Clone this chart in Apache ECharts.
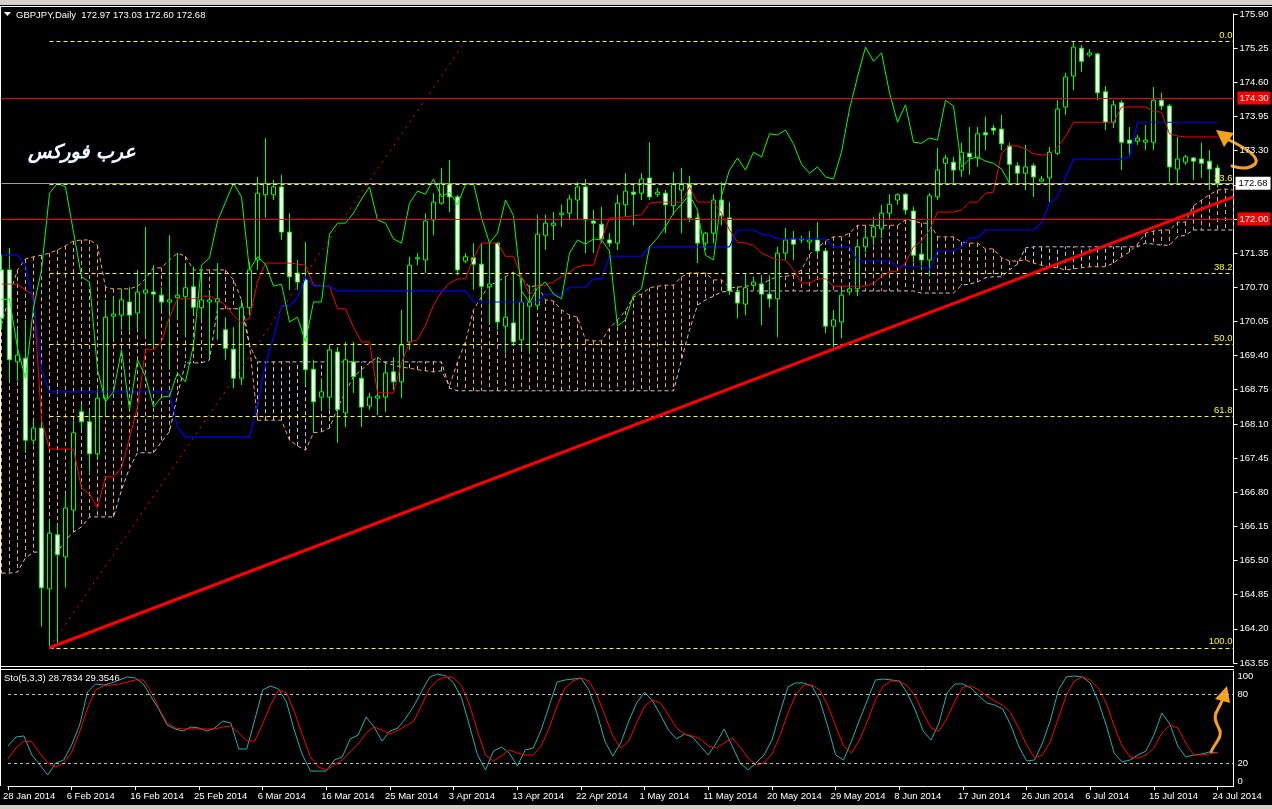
<!DOCTYPE html>
<html><head><meta charset="utf-8">
<script src="https://cdn.jsdelivr.net/npm/echarts@6/dist/echarts.min.js"></script>
<style>html,body{margin:0;padding:0;background:#000;overflow:hidden}#c{width:1272px;height:809px}</style>
</head><body><div id="c"></div>
<script>
// ---------- DATA ----------
const dateLabels = ["28 Jan 2014","6 Feb 2014","16 Feb 2014","25 Feb 2014","6 Mar 2014","16 Mar 2014","25 Mar 2014","3 Apr 2014","13 Apr 2014","22 Apr 2014","1 May 2014","11 May 2014","20 May 2014","29 May 2014","8 Jun 2014","17 Jun 2014","26 Jun 2014","6 Jul 2014","15 Jul 2014","24 Jul 2014"];
const priceTicks = {min:163.55, max:175.90, step:0.65};

const opens = [171.03,171.03,169.28,169.35,167.79,168.02,164.96,165.99,165.57,166.46,
168.33,168.14,167.53,168.59,170.15,170.17,170.42,170.21,170.59,170.61,
170.55,170.42,170.50,170.52,170.71,170.31,170.42,170.42,169.89,169.52,
168.97,170.31,171.22,172.46,172.46,172.61,171.75,170.97,170.84,169.14,
168.61,168.61,169.47,168.31,169.28,168.97,168.44,168.59,168.61,169.09,
168.90,169.66,171.24,171.22,171.98,172.30,172.65,172.42,171.20,171.26,
171.14,170.71,171.54,169.96,170.02,169.70,170.34,170.36,171.69,171.88,
172.08,172.11,172.36,172.61,171.96,171.90,171.60,171.54,172.27,172.51,
172.49,172.78,172.47,172.49,172.25,172.55,172.65,172.02,171.54,171.73,
172.36,172.02,170.61,170.38,170.74,170.76,170.57,170.48,171.35,171.62,
171.60,171.56,171.60,171.39,169.96,170.04,170.61,170.67,171.47,171.66,
171.81,172.11,172.36,172.47,172.15,171.33,171.22,172.42,173.06,173.08,
172.93,173.25,173.16,173.64,173.73,173.71,173.39,173.01,172.87,173.01,
172.72,172.78,173.25,174.13,174.72,175.25,175.12,175.14,174.42,173.84,
174.21,173.50,173.48,173.46,173.46,174.26,174.15,172.95,173.08,173.16,
173.14,173.10,172.97];
const highs = [171.32,171.45,169.89,170.08,168.17,168.17,166.27,166.18,166.75,168.17,
168.46,168.37,168.75,170.46,170.53,170.65,170.70,171.03,171.85,171.12,
170.70,171.69,171.35,171.16,171.09,171.03,170.65,171.16,170.13,169.94,
170.46,171.18,172.80,173.54,172.74,172.84,172.11,171.22,171.56,169.32,
168.97,169.60,169.56,169.66,169.66,169.13,168.69,169.37,169.26,169.37,
170.27,171.28,171.35,172.11,172.49,172.97,173.12,172.46,171.35,171.54,
171.54,171.56,171.56,170.90,170.99,170.88,170.74,172.08,172.08,172.13,
172.27,172.46,172.70,172.76,172.17,172.23,171.73,172.46,172.87,172.66,
172.87,173.46,172.59,172.55,172.89,172.97,172.82,172.11,171.75,172.47,
172.70,172.32,170.72,170.97,170.90,170.93,170.93,171.47,171.83,171.77,
171.68,171.77,171.94,171.41,170.27,170.65,170.74,171.60,171.83,172.04,
172.27,172.47,172.49,172.49,172.23,171.54,172.49,173.35,173.22,173.18,
173.45,173.75,173.75,173.95,173.79,173.98,173.45,173.08,173.41,173.06,
172.82,173.37,174.26,174.78,175.38,175.31,175.23,175.16,174.53,174.26,
174.26,173.75,173.60,173.79,174.51,174.40,174.19,173.56,173.22,173.18,
173.45,173.31,173.03];
const lows = [169.89,168.92,168.92,167.55,167.70,164.24,163.84,163.93,164.99,166.08,
167.98,167.16,167.41,168.27,169.70,169.89,169.85,169.89,169.75,169.56,
170.27,169.13,170.08,169.75,170.17,170.08,169.37,169.70,169.32,168.78,
168.84,170.17,171.03,172.02,172.36,171.60,170.65,170.65,168.84,167.93,
168.37,168.37,167.74,168.04,168.69,168.04,168.37,168.27,168.33,168.75,
168.59,169.51,171.12,170.97,171.69,172.27,172.13,170.93,171.16,170.65,
170.46,169.98,169.89,169.45,169.60,169.54,169.45,170.27,171.41,171.60,
171.85,171.98,171.98,171.35,171.35,171.54,171.47,171.41,172.04,171.88,
172.36,172.36,172.42,171.73,172.08,171.73,171.94,171.16,171.41,171.54,
171.88,170.55,170.11,170.17,170.65,169.98,170.32,169.75,171.22,171.22,
171.54,171.41,171.32,169.83,169.56,169.73,170.55,170.53,171.37,171.50,
171.64,171.98,172.27,172.08,171.18,171.03,170.93,172.36,172.68,172.68,
172.80,172.84,172.99,173.31,173.60,173.31,172.68,172.68,172.55,172.42,
172.70,172.32,173.22,173.98,174.45,174.80,175.08,174.26,173.69,173.73,
172.93,173.18,173.41,173.31,173.31,174.07,172.70,172.65,173.03,172.74,
172.78,172.55,172.60];
const closes = [170.11,169.32,169.41,167.79,168.02,164.98,166.02,165.61,166.50,167.93,
168.14,167.53,168.59,170.13,170.19,170.46,170.17,170.61,170.65,170.57,
170.42,170.46,170.55,170.69,170.32,170.46,170.46,170.48,169.54,168.97,
170.32,171.03,172.49,172.68,172.61,171.75,170.90,170.80,169.13,168.52,
168.71,169.51,168.37,169.32,169.00,168.42,168.61,168.63,169.07,168.90,
169.60,171.12,171.26,171.96,172.32,172.68,172.42,171.03,171.28,171.14,
170.72,170.76,170.04,170.13,169.66,170.42,170.42,171.71,171.92,171.92,
172.11,172.38,172.61,171.98,171.92,171.62,171.54,172.30,172.53,172.47,
172.76,172.42,172.51,172.27,172.66,172.68,172.02,171.54,171.73,172.36,
172.06,170.63,170.40,170.69,170.80,170.57,170.48,171.35,171.60,171.52,
171.62,171.60,171.39,169.96,170.08,170.55,170.67,171.47,171.64,171.85,
172.11,172.28,172.46,172.17,171.31,171.22,172.44,172.93,173.16,172.93,
173.27,173.18,173.62,173.60,173.69,173.43,173.04,172.87,172.99,172.80,
172.76,173.27,174.09,174.70,175.27,175.00,175.16,174.40,173.84,174.17,
173.46,173.44,173.54,173.50,174.26,174.15,172.99,173.14,173.18,173.10,
173.06,172.95,172.68];

const tenkan = [170.76,170.76,170.76,170.65,170.55,168.17,167.62,167.62,167.62,167.62,
166.88,166.77,166.50,167.09,167.09,167.26,167.83,168.42,169.51,169.51,
169.66,170.13,170.48,170.48,170.48,170.53,170.53,170.46,170.36,170.17,
170.02,170.11,170.80,171.16,171.16,171.16,171.16,171.14,171.12,170.74,
170.72,170.72,170.29,170.29,169.94,169.66,169.66,168.69,168.69,168.69,
169.26,169.66,169.70,169.98,170.36,170.61,170.78,170.86,170.86,171.26,
171.54,171.54,171.54,171.29,171.29,170.90,170.55,170.74,170.74,170.80,
170.90,170.99,171.09,171.12,171.12,171.60,172.02,172.02,172.04,172.06,
172.08,172.30,172.32,172.32,172.32,172.32,172.61,172.32,172.32,172.32,
172.11,171.79,171.56,171.54,171.50,171.35,171.28,171.22,171.22,171.03,
170.78,170.78,170.86,170.86,170.72,170.72,170.72,170.72,170.72,170.78,
170.90,170.99,171.01,171.16,171.47,171.58,171.79,172.13,172.13,172.13,
172.17,172.32,172.32,172.49,172.51,173.25,173.39,173.39,173.33,173.24,
173.22,173.22,173.37,173.56,173.84,173.84,173.84,173.84,173.84,173.84,
174.13,174.13,174.13,174.13,174.05,174.03,173.62,173.58,173.56,173.56,
173.56,173.56,173.56];
const kijun = [171.31,171.31,171.31,171.12,170.40,169.13,168.71,168.71,168.71,168.71,
168.71,168.71,168.71,168.71,168.71,168.71,168.71,168.71,168.71,168.71,
168.71,168.71,168.04,167.85,167.85,167.85,167.85,167.85,167.85,167.85,
167.85,167.85,168.46,169.22,169.75,170.34,170.34,170.50,170.90,170.72,
170.72,170.72,170.63,170.63,170.63,170.63,170.63,170.63,170.63,170.63,
170.63,170.63,170.63,170.63,170.63,170.63,170.63,170.63,170.63,170.42,
170.42,170.42,170.42,170.42,170.42,170.42,170.42,170.42,170.57,170.57,
170.57,170.70,170.70,170.70,170.86,170.86,171.29,171.29,171.29,171.29,
171.29,171.47,171.47,171.47,171.47,171.47,171.47,171.47,171.47,171.47,
171.47,171.47,171.79,171.79,171.79,171.71,171.69,171.62,171.62,171.62,
171.62,171.62,171.62,171.62,171.47,171.47,171.47,171.20,171.20,171.20,
171.20,171.20,171.10,171.10,171.10,171.10,171.03,171.39,171.39,171.39,
171.47,171.64,171.64,171.79,171.79,171.79,171.79,171.79,171.79,171.79,
171.92,172.30,172.42,172.80,173.14,173.14,173.14,173.14,173.14,173.14,
173.14,173.18,173.84,173.84,173.84,173.84,173.84,173.84,173.84,173.84,
173.84,173.84,173.84];
const senkouA = [169.98,170.55,171.03,171.24,171.28,171.31,171.35,171.41,171.49,171.58,
171.60,171.60,171.50,170.70,170.67,170.67,170.67,170.72,170.86,171.07,
171.07,171.22,171.35,171.29,171.03,171.03,171.03,171.03,171.03,170.84,
170.46,169.60,168.17,168.17,168.17,168.17,167.79,167.68,167.60,167.93,
167.95,168.02,168.40,168.71,169.00,169.13,169.26,169.37,169.26,169.22,
169.18,169.16,169.13,169.11,169.09,169.11,168.82,169.28,169.66,170.27,
170.52,170.74,170.80,170.90,170.99,170.88,170.70,170.74,170.46,170.44,
170.27,170.17,170.13,169.70,169.68,169.68,169.92,170.08,170.25,170.52,
170.57,170.69,170.72,170.74,170.74,170.90,170.97,170.97,170.97,170.84,
170.84,170.69,170.70,170.72,170.74,170.76,170.84,170.90,170.91,170.93,
171.03,171.33,171.45,171.58,171.66,171.66,171.73,171.88,171.88,171.88,
171.88,171.88,171.88,171.98,171.96,171.92,171.92,171.66,171.66,171.66,
171.56,171.54,171.54,171.43,171.43,171.26,171.20,171.20,171.22,171.16,
171.12,171.09,171.07,171.03,171.05,171.07,171.09,171.09,171.09,171.16,
171.28,171.37,171.52,171.73,171.77,171.79,171.79,171.94,171.94,172.25,
172.36,172.46,172.55,172.57,172.55];
const senkouB = [165.26,165.26,165.28,165.55,165.66,165.66,165.66,165.66,165.89,166.04,
166.14,166.33,166.33,166.33,166.33,166.84,167.26,167.55,167.55,167.55,
167.76,167.95,168.65,169.26,169.26,169.26,169.32,170.29,170.29,170.29,
170.29,169.60,169.28,169.28,169.28,169.28,169.28,169.28,169.28,169.28,
169.28,169.28,169.28,169.28,169.28,169.28,169.28,169.28,169.28,169.28,
169.28,169.28,169.28,169.28,169.28,169.28,168.78,168.73,168.73,168.73,
168.73,168.73,168.73,168.73,168.73,168.73,168.73,168.73,168.73,168.73,
168.73,168.73,168.73,168.73,168.73,168.73,168.73,168.73,168.73,168.73,
168.73,168.73,168.73,168.73,168.73,169.32,169.89,170.36,170.46,170.53,
170.61,170.63,170.63,170.63,170.63,170.63,170.63,170.63,170.63,170.63,
170.63,170.63,170.63,170.63,170.63,170.63,170.63,170.63,170.63,170.63,
170.63,170.63,170.63,170.63,170.63,170.59,170.59,170.59,170.59,170.59,
170.74,170.76,170.80,170.88,170.90,170.90,171.03,171.14,171.45,171.47,
171.47,171.47,171.47,171.47,171.47,171.47,171.47,171.47,171.47,171.47,
171.47,171.47,171.47,171.54,171.52,171.50,171.50,171.66,171.69,171.79,
171.79,171.79,171.79,171.79,171.79];
const chikouShift = 26;

const stochMain = [34.8,42.6,43.5,27.0,18.3,9.6,20.0,22.6,35.7,53.0,
81.7,88.7,87.8,89.6,92.2,94.8,93.9,88.7,77.4,66.1,
53.0,49.6,47.8,51.3,50.4,47.8,50.4,56.5,54.8,32.2,
32.2,57.4,83.5,87.0,84.3,73.0,47.8,27.0,13.0,13.0,
13.0,22.6,25.2,40.9,44.3,60.0,51.3,39.1,47.8,50.4,
59.1,69.6,82.6,94.8,97.4,95.7,89.6,76.5,52.2,27.0,
13.9,30.4,33.9,28.7,17.4,31.3,33.0,48.7,69.6,90.4,
92.2,93.0,93.9,83.5,63.5,39.1,26.1,37.4,56.5,72.2,
81.7,73.9,61.7,48.7,40.9,45.2,42.6,34.8,27.0,37.4,
49.6,34.8,20.0,13.9,20.0,27.0,40.0,63.5,86.1,89.6,
89.6,87.0,74.8,52.2,27.0,22.6,39.1,57.4,74.8,92.2,
93.0,92.2,91.3,80.9,66.1,47.8,40.0,54.8,80.9,88.7,
88.7,85.2,78.3,72.2,70.4,67.0,53.0,34.8,21.7,22.6,
37.4,57.4,83.5,94.8,95.7,94.8,89.6,73.9,53.0,28.7,
20.9,22.6,27.0,30.4,44.3,63.5,53.9,34.8,25.2,27.0,
27.8,29.6,28.78];
const stochSignal = [23.5,33.0,39.1,38.3,28.7,20.0,16.5,20.0,29.6,47.0,
67.8,83.5,87.0,87.8,88.7,90.4,92.2,92.2,81.7,67.0,
54.8,50.4,49.6,49.6,49.6,49.6,49.6,51.3,52.2,46.1,
39.1,39.1,53.9,70.4,83.5,80.9,64.3,44.3,25.2,16.5,
13.9,18.3,22.6,29.6,36.5,46.1,51.3,48.7,45.2,48.7,
52.2,56.5,70.4,85.2,92.2,94.8,93.9,87.0,70.4,47.8,
27.0,21.7,26.1,31.3,28.7,27.0,27.0,34.8,50.4,69.6,
85.2,91.3,93.9,91.3,79.1,61.7,43.5,33.0,39.1,54.8,
69.6,74.8,72.2,61.7,50.4,45.2,43.5,40.9,34.8,33.0,
37.4,41.7,33.9,24.3,18.3,20.0,27.8,43.5,63.5,79.1,
87.8,87.8,83.5,70.4,52.2,34.8,28.7,40.0,56.5,74.8,
87.0,91.3,91.3,87.0,78.3,63.5,50.4,47.8,59.1,73.9,
86.1,87.0,83.5,78.3,73.9,70.4,63.5,50.4,35.7,24.3,
27.0,39.1,59.1,79.1,91.3,94.8,92.2,85.2,72.2,52.2,
34.8,25.2,24.3,27.0,33.0,46.1,53.0,50.4,37.4,27.0,
27.0,27.8,29.35];
const stochLevels = [80, 20];

const fibLow = 163.84, fibHigh = 175.38;
const fibLevels = [0, 23.6, 38.2, 50.0, 61.8, 100.0];
const fibStartBar = 6, fibEndBar = 154, fibBaseEndBar = 57.96;
const trendPoints = [[6, 163.84], [154, 172.42]];
const resistance = 174.30, support = 172.00, bid = 172.68;

// ---------- CHART ----------
const N = senkouA.length;
const cats = Array.from({length: N}, (_, i) => String(i));
const FONT = '"Liberation Sans", Arial, sans-serif';
const LEFT = 1.5, RIGHT = 1272 - (1.5 + 8 * (N - 1));

const candleData = opens.map((o, i) => [o, closes[i], lows[i], highs[i]]);
const chikou = closes.slice(chikouShift);
const cloudData = senkouA.map((a, i) => [i, a, senkouB[i]]);
const fibMarks = fibLevels.map(l => {
  const p = fibHigh - (fibHigh - fibLow) * l / 100;
  return [{name: l.toFixed(1), coord: [fibStartBar, p]}, {coord: [fibEndBar, p]}];
});
const ORANGE = '#F7A11A';

const chart = echarts.init(document.getElementById('c'), null, {renderer: 'canvas', width: 1272, height: 809});
const option = {
  animation: false,
  backgroundColor: '#000',
  grid: [
    {left: LEFT, right: RIGHT, top: 14, height: 649},
    {left: LEFT, right: RIGHT, top: 671, height: 115}
  ],
  xAxis: [
    {type: 'category', gridIndex: 0, data: cats, boundaryGap: false, show: false},
    {type: 'value', gridIndex: 0, min: 0, max: N - 1, show: false},
    {type: 'category', gridIndex: 1, data: cats, boundaryGap: false,
      axisLine: {onZero: false, lineStyle: {color: '#fff', width: 1}},
      axisTick: {interval: 7, length: 4, lineStyle: {color: '#fff'}},
      axisLabel: {interval: 7, color: '#fff', fontSize: 9.5, fontFamily: FONT, align: 'left', margin: 5, padding: [0, 0, 0, -5],
        formatter: (v, i) => (i % 8 === 0 && dateLabels[i / 8]) ? dateLabels[i / 8] : ''},
      splitLine: {show: false}}
  ],
  yAxis: [
    {type: 'value', gridIndex: 0, position: 'right', min: priceTicks.min, max: priceTicks.max, interval: priceTicks.step,
      axisLine: {show: true, onZero: false, lineStyle: {color: '#fff'}},
      axisTick: {show: true, length: 4, lineStyle: {color: '#fff'}},
      axisLabel: {color: '#fff', fontSize: 9.5, fontFamily: FONT, margin: 6,
        formatter: v => (Math.abs(v - 172.65) < 0.001 || Math.abs(v - 172.00) < 0.001) ? '' : v.toFixed(2)},
      splitLine: {show: false}},
    {type: 'value', gridIndex: 1, position: 'right', min: 0, max: 100, interval: 20,
      axisLine: {show: true, onZero: false, lineStyle: {color: '#fff'}},
      axisTick: {show: false},
      axisLabel: {color: '#fff', fontSize: 9.5, fontFamily: FONT, margin: 4,
        verticalAlignMaxLabel: 'top', verticalAlignMinLabel: 'bottom',
        formatter: v => (v === 0 || v === 20 || v === 80 || v === 100) ? String(v) : ''},
      splitLine: {show: false}}
  ],
  series: [
    {type: 'custom', name: 'cloud', xAxisIndex: 0, yAxisIndex: 0, data: cloudData, z: 1, silent: true,
      renderItem: (params, api) => {
        const x = api.value(0), a = api.value(1), b = api.value(2);
        const p1 = api.coord([x, a]), p2 = api.coord([x, b]);
        const xx = Math.round(p1[0] - 0.5) + 0.5;
        return {type: 'line', shape: {x1: xx, y1: p1[1], x2: xx, y2: p2[1]},
          style: {stroke: a >= b ? '#F4A460' : '#D8BFD8', lineWidth: 1, lineDash: [4, 3]}};
      }},
    {type: 'line', name: 'Senkou A', xAxisIndex: 0, yAxisIndex: 0, data: senkouA, symbol: 'none', z: 2,
      lineStyle: {color: '#F4A460', width: 1, type: [4, 3]}},
    {type: 'line', name: 'Senkou B', xAxisIndex: 0, yAxisIndex: 0, data: senkouB, symbol: 'none', z: 2,
      lineStyle: {color: '#D8BFD8', width: 1, type: [4, 3]}},
    {type: 'candlestick', name: 'GBPJPY', xAxisIndex: 0, yAxisIndex: 0, data: candleData, barWidth: 5, z: 3,
      itemStyle: {color: '#000', color0: '#fff', borderColor: '#00ff00', borderColor0: '#00ff00', borderWidth: 1}},
    {type: 'line', name: 'Tenkan', xAxisIndex: 0, yAxisIndex: 0, data: tenkan, symbol: 'none', z: 4,
      lineStyle: {color: '#ff0000', width: 1}},
    {type: 'line', name: 'Kijun', xAxisIndex: 0, yAxisIndex: 0, data: kijun, symbol: 'none', z: 4,
      lineStyle: {color: '#0000ff', width: 1.2}},
    {type: 'line', name: 'Chikou', xAxisIndex: 0, yAxisIndex: 0, data: chikou, symbol: 'none', z: 4,
      lineStyle: {color: '#00ff00', width: 1}},
    {type: 'line', name: 'FiboBase', xAxisIndex: 1, yAxisIndex: 0, data: [[fibStartBar, fibLow], [fibBaseEndBar, fibHigh]],
      symbol: 'none', z: 5, lineStyle: {color: '#ff0000', width: 1, type: [2, 5]},
      markLine: {silent: true, symbol: 'none', z: 5,
        lineStyle: {color: '#ffff00', width: 1, type: [4, 3]},
        label: {show: true, position: 'insideEndTop', formatter: '{b}', color: '#ffff00', fontSize: 9.5, fontFamily: FONT, distance: 1},
        data: fibMarks}},
    {type: 'line', name: 'Trend', xAxisIndex: 1, yAxisIndex: 0, data: trendPoints, symbol: 'none', z: 6,
      lineStyle: {color: '#ff0000', width: 3},
      markLine: {silent: true, symbol: 'none', z: 6,
        data: [
          {yAxis: resistance, lineStyle: {color: '#ff0000', width: 1, type: 'solid'},
            label: {show: true, position: 'end', formatter: resistance.toFixed(2), color: '#fff', backgroundColor: '#ff0000', padding: [2, 2, 1, 2], fontSize: 9.5, fontFamily: FONT, distance: 4}},
          {yAxis: support, lineStyle: {color: '#ff0000', width: 1, type: 'solid'},
            label: {show: true, position: 'end', formatter: support.toFixed(2), color: '#fff', backgroundColor: '#ff0000', padding: [2, 2, 1, 2], fontSize: 9.5, fontFamily: FONT, distance: 4}},
          {yAxis: bid, lineStyle: {color: '#a0a0a0', width: 1, type: 'solid'},
            label: {show: true, position: 'end', formatter: bid.toFixed(2), color: '#000', backgroundColor: '#fff', padding: [2, 3, 1, 3], fontSize: 9.5, fontFamily: FONT, distance: 2}}
        ]}},
    {type: 'line', name: 'Sto main', xAxisIndex: 2, yAxisIndex: 1, data: stochMain, symbol: 'none', z: 3,
      lineStyle: {color: '#20B2AA', width: 1},
      markLine: {silent: true, symbol: 'none', label: {show: false},
        lineStyle: {color: '#c0c0c0', width: 1, type: [3, 3]},
        data: stochLevels.map(v => ({yAxis: v}))}},
    {type: 'line', name: 'Sto signal', xAxisIndex: 2, yAxisIndex: 1, data: stochSignal, symbol: 'none', z: 4,
      lineStyle: {color: '#ff0000', width: 1}}
  ],
  graphic: [
    {type: 'rect', shape: {x: 0, y: 0, width: 1272, height: 5}, style: {fill: '#d4d0c8'}, silent: true},
    {type: 'line', shape: {x1: 0, y1: 6.5, x2: 1272, y2: 6.5}, style: {stroke: '#fff', lineWidth: 1}, silent: true},
    {type: 'line', shape: {x1: 0.5, y1: 6, x2: 0.5, y2: 786}, style: {stroke: '#fff', lineWidth: 1}, silent: true},
    {type: 'line', shape: {x1: 0, y1: 666.5, x2: 1234, y2: 666.5}, style: {stroke: '#fff', lineWidth: 1}, silent: true},
    {type: 'line', shape: {x1: 0, y1: 669.5, x2: 1234, y2: 669.5}, style: {stroke: '#fff', lineWidth: 1}, silent: true},
    {type: 'rect', shape: {x: 0, y: 805, width: 1272, height: 4}, style: {fill: '#d4d0c8'}, silent: true},
    {type: 'polygon', shape: {points: [[4, 12], [11, 12], [7.5, 16]]}, style: {fill: '#fff'}, silent: true},
    {type: 'text', x: 16, y: 15, style: {text: 'GBPJPY,Daily  172.97 173.03 172.60 172.68', fill: '#fff', font: '9.5px ' + FONT, textVerticalAlign: 'middle'}, silent: true},
    {type: 'text', x: 4, y: 678, style: {text: 'Sto(5,3,3) 28.7834 29.3546', fill: '#fff', font: '9.5px ' + FONT, textVerticalAlign: 'middle'}, silent: true},
    {type: 'text', x: 28, y: 153, style: {text: 'عرب فوركس', fill: '#fff', font: 'italic bold 19px "DejaVu Sans", sans-serif', textVerticalAlign: 'middle', stroke: '#3050a0', lineWidth: 0.6}, silent: true},
    {type: 'bezierCurve', shape: {x1: 1229, y1: 140, cpx1: 1262, cpy1: 156, x2: 1255, y2: 164}, style: {stroke: ORANGE, lineWidth: 3, fill: null, lineCap: 'round'}, silent: true},
    {type: 'bezierCurve', shape: {x1: 1255, y1: 164, cpx1: 1247, cpy1: 171, x2: 1232, y2: 166}, style: {stroke: ORANGE, lineWidth: 3, fill: null, lineCap: 'round'}, silent: true},
    {type: 'polygon', shape: {points: [[1216, 130], [1234, 133], [1224, 147]]}, style: {fill: ORANGE}, silent: true},
    {type: 'bezierCurve', shape: {x1: 1211, y1: 752, cpx1: 1214, cpy1: 744, cpx2: 1222, cpy2: 738, x2: 1220, y2: 731}, style: {stroke: ORANGE, lineWidth: 3, fill: null, lineCap: 'round'}, silent: true},
    {type: 'bezierCurve', shape: {x1: 1220, y1: 731, cpx1: 1218, cpy1: 725, cpx2: 1213, cpy2: 720, x2: 1216, y2: 713}, style: {stroke: ORANGE, lineWidth: 3, fill: null, lineCap: 'round'}, silent: true},
    {type: 'line', shape: {x1: 1216, y1: 713, x2: 1222, y2: 701}, style: {stroke: ORANGE, lineWidth: 3, lineCap: 'round'}, silent: true},
    {type: 'polygon', shape: {points: [[1227, 686], [1215, 699], [1230, 703]]}, style: {fill: ORANGE}, silent: true}
  ]
};
chart.setOption(option);
</script>
</body></html>
